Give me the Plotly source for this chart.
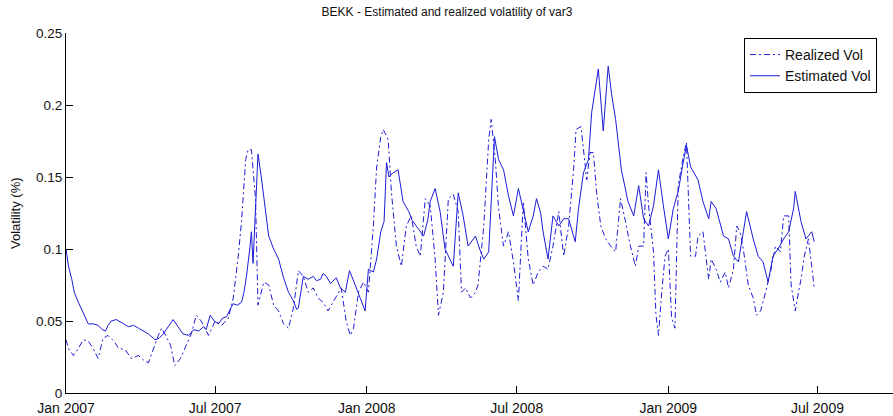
import pandas as pd
import plotly.graph_objects as go

# Observation days counted from 1 Jan 2007, with volatility levels
start = pd.Timestamp("2007-01-01")

realized_days = [0, 3, 9, 15, 21, 27, 33, 39, 45, 51, 58, 64, 72, 79, 88, 96, 100, 104, 107, 112,
                 116, 121, 127, 132, 139, 145, 152, 158, 164, 173, 181, 189, 197, 203, 209, 213, 218, 221, 225, 230,
                 233, 240, 246, 252, 258, 264, 270, 276, 282, 288, 294, 300, 306, 312, 318, 327, 334, 340, 345, 349,
                 355, 361, 367, 373, 377, 382, 385, 391, 395, 401, 407, 413, 419, 425, 430, 436, 442, 448, 452, 458,
                 464, 470, 476, 480, 485, 491, 497, 500, 507, 513, 516, 521, 525, 531, 537, 543, 549, 555, 561, 567,
                 573, 579, 585, 591, 598, 604, 610, 616, 619, 625, 632, 636, 640, 644, 649, 655, 661, 667, 673, 679,
                 685, 691, 695, 701, 704, 707, 713, 716, 719, 723, 727, 731, 735, 739, 743, 749, 753, 758, 764, 767,
                 773, 780, 783, 789, 794, 800, 804, 810, 814, 818, 822, 828, 834, 838, 843, 849, 855, 861, 867, 871,
                 877, 880, 885, 889, 892, 896, 901, 905, 908]
realized_vol = [0.037, 0.031, 0.026, 0.031, 0.037, 0.036, 0.031, 0.024, 0.038, 0.040, 0.036, 0.031, 0.030, 0.024, 0.026, 0.022, 0.021, 0.028, 0.032, 0.040,
                0.045, 0.040, 0.033, 0.019, 0.024, 0.032, 0.041, 0.054, 0.050, 0.040, 0.050, 0.047, 0.052, 0.066, 0.095, 0.119, 0.162, 0.169, 0.169, 0.135,
                0.061, 0.077, 0.075, 0.061, 0.057, 0.048, 0.045, 0.059, 0.085, 0.081, 0.070, 0.073, 0.066, 0.063, 0.057, 0.066, 0.073, 0.050, 0.040, 0.045,
                0.070, 0.077, 0.070, 0.116, 0.157, 0.178, 0.183, 0.176, 0.139, 0.102, 0.088, 0.116, 0.123, 0.102, 0.095, 0.135, 0.130, 0.093, 0.054, 0.070,
                0.135, 0.138, 0.126, 0.070, 0.073, 0.066, 0.070, 0.075, 0.116, 0.176, 0.190, 0.162, 0.128, 0.102, 0.112, 0.091, 0.064, 0.133, 0.093, 0.075,
                0.084, 0.088, 0.086, 0.102, 0.126, 0.095, 0.116, 0.155, 0.183, 0.185, 0.148, 0.167, 0.167, 0.139, 0.116, 0.107, 0.102, 0.098, 0.135, 0.119,
                0.102, 0.088, 0.102, 0.102, 0.153, 0.130, 0.098, 0.054, 0.040, 0.070, 0.095, 0.100, 0.052, 0.045, 0.144, 0.164, 0.174, 0.095, 0.095, 0.109,
                0.112, 0.079, 0.093, 0.086, 0.077, 0.084, 0.073, 0.086, 0.116, 0.112, 0.100, 0.075, 0.066, 0.054, 0.057, 0.070, 0.084, 0.102, 0.098, 0.123,
                0.123, 0.075, 0.057, 0.070, 0.079, 0.095, 0.107, 0.088, 0.073]

estimated_days = [0, 3, 7, 10, 15, 21, 27, 33, 39, 44, 48, 51, 55, 61, 66, 70, 76, 82, 88, 94,
                  100, 106, 108, 113, 118, 124, 130, 136, 142, 149, 155, 161, 167, 170, 175, 180, 185, 190, 195, 199,
                  203, 208, 213, 216, 219, 223, 225, 227, 230, 233, 237, 241, 246, 252, 258, 264, 270, 276, 280, 282,
                  286, 288, 294, 300, 304, 309, 312, 316, 321, 324, 328, 333, 339, 344, 348, 351, 357, 361, 363, 367,
                  373, 377, 382, 386, 389, 392, 397, 403, 407, 409, 416, 420, 425, 430, 434, 439, 442, 448, 454, 460,
                  465, 470, 476, 482, 488, 493, 497, 502, 507, 513, 516, 520, 525, 531, 537, 543, 549, 555, 561, 567,
                  571, 576, 579, 585, 591, 598, 604, 610, 615, 618, 622, 628, 634, 638, 642, 646, 652, 658, 662, 667,
                  674, 682, 689, 695, 701, 707, 713, 719, 725, 731, 737, 743, 749, 753, 758, 767, 773, 780, 783, 789,
                  798, 804, 810, 816, 822, 826, 834, 840, 846, 852, 858, 864, 871, 877, 883, 885, 892, 898, 905, 908]
estimated_vol = [0.100, 0.088, 0.079, 0.070, 0.063, 0.055, 0.048, 0.048, 0.047, 0.044, 0.043, 0.047, 0.050, 0.051, 0.049, 0.048, 0.046, 0.047, 0.045, 0.043,
                 0.041, 0.038, 0.037, 0.038, 0.041, 0.046, 0.051, 0.046, 0.041, 0.040, 0.044, 0.043, 0.046, 0.044, 0.054, 0.050, 0.048, 0.052, 0.053, 0.058,
                 0.062, 0.061, 0.063, 0.070, 0.081, 0.100, 0.112, 0.090, 0.123, 0.166, 0.150, 0.130, 0.109, 0.100, 0.093, 0.080, 0.070, 0.064, 0.058, 0.059,
                 0.075, 0.081, 0.079, 0.081, 0.078, 0.079, 0.083, 0.081, 0.076, 0.078, 0.080, 0.073, 0.070, 0.085, 0.080, 0.075, 0.066, 0.060, 0.057, 0.086,
                 0.084, 0.093, 0.112, 0.119, 0.160, 0.150, 0.153, 0.155, 0.142, 0.133, 0.126, 0.120, 0.116, 0.112, 0.109, 0.120, 0.133, 0.142, 0.126, 0.100,
                 0.094, 0.088, 0.139, 0.123, 0.102, 0.106, 0.109, 0.100, 0.093, 0.098, 0.130, 0.178, 0.162, 0.155, 0.137, 0.123, 0.142, 0.128, 0.112, 0.123,
                 0.135, 0.125, 0.112, 0.093, 0.123, 0.116, 0.121, 0.121, 0.110, 0.105, 0.128, 0.153, 0.162, 0.195, 0.210, 0.225, 0.182, 0.227, 0.208, 0.190,
                 0.155, 0.133, 0.123, 0.144, 0.121, 0.116, 0.130, 0.155, 0.130, 0.107, 0.128, 0.140, 0.160, 0.172, 0.157, 0.148, 0.133, 0.121, 0.133, 0.128,
                 0.109, 0.107, 0.095, 0.091, 0.112, 0.126, 0.107, 0.095, 0.091, 0.077, 0.095, 0.100, 0.107, 0.112, 0.128, 0.140, 0.119, 0.107, 0.112, 0.105]

tick_dates = ["2007-01-01", "2007-07-01", "2008-01-01", "2008-07-01", "2009-01-01", "2009-07-01"]
tick_labels = ["Jan 2007", "Jul 2007", "Jan 2008", "Jul 2008", "Jan 2009", "Jul 2009"]
y_ticks = [0, 0.05, 0.1, 0.15, 0.2, 0.25]
y_labels = ["0", "0.05", "0.1", "0.15", "0.2", "0.25"]

realized_x = start + pd.to_timedelta(realized_days, unit="D")
estimated_x = start + pd.to_timedelta(estimated_days, unit="D")

LINE = "rgb(28,28,215)"
FONT = "Liberation Sans, Arial, sans-serif"

fig = go.Figure()
fig.add_trace(go.Scatter(x=realized_x, y=realized_vol, mode="lines", name="Realized Vol",
                         line=dict(color=LINE, width=1, dash="6px,3px,2px,3px")))
fig.add_trace(go.Scatter(x=estimated_x, y=estimated_vol, mode="lines", name="Estimated Vol",
                         line=dict(color=LINE, width=1)))

W, H = 893, 416
left, right, top, bottom = 66, 0, 33, 21
plot_w = W - left - right
px_per_day = 0.824
x_end = start + pd.Timedelta(days=plot_w / px_per_day)

fig.update_layout(
    width=W, height=H,
    margin=dict(l=left, r=right, t=top, b=bottom),
    paper_bgcolor="white", plot_bgcolor="white",
    font=dict(family=FONT, color="#111111"),
    showlegend=True,
    title=dict(text="BEKK - Estimated and realized volatility of var3",
               x=447 / W, xref="container", xanchor="center",
               y=1 - 12 / H, yref="container", yanchor="middle",
               font=dict(size=12, family=FONT, color="#111111")),
    legend=dict(x=(877 - left) / plot_w, xanchor="right", y=(395 - 38) / 362, yanchor="top",
                bgcolor="white", bordercolor="black", borderwidth=1,
                font=dict(size=14, family=FONT, color="#111111"),
                tracegroupgap=0, itemclick=False),
    xaxis=dict(type="date", range=[start, x_end], showgrid=False, zeroline=False,
               showline=True, linecolor="black", linewidth=1, mirror=False,
               ticks="inside", ticklen=7, tickcolor="black",
               tickvals=tick_dates, ticktext=tick_labels, ticklabelstandoff=2,
               tickfont=dict(size=14, family=FONT, color="#111111")),
    yaxis=dict(range=[0, 0.25], showgrid=False, zeroline=False,
               showline=True, linecolor="black", linewidth=1, mirror=False,
               ticks="inside", ticklen=7, tickcolor="black",
               tickvals=y_ticks, ticktext=y_labels,
               tickfont=dict(size=13.5, family=FONT, color="#111111")),
    annotations=[dict(text="Volatility (%)", textangle=-90, showarrow=False,
                      xref="paper", x=(15 - left) / plot_w, xanchor="center",
                      yref="paper", y=0.5, yanchor="middle",
                      font=dict(size=13, family=FONT, color="#111111"))],
)

fig.write_html("out.html")
